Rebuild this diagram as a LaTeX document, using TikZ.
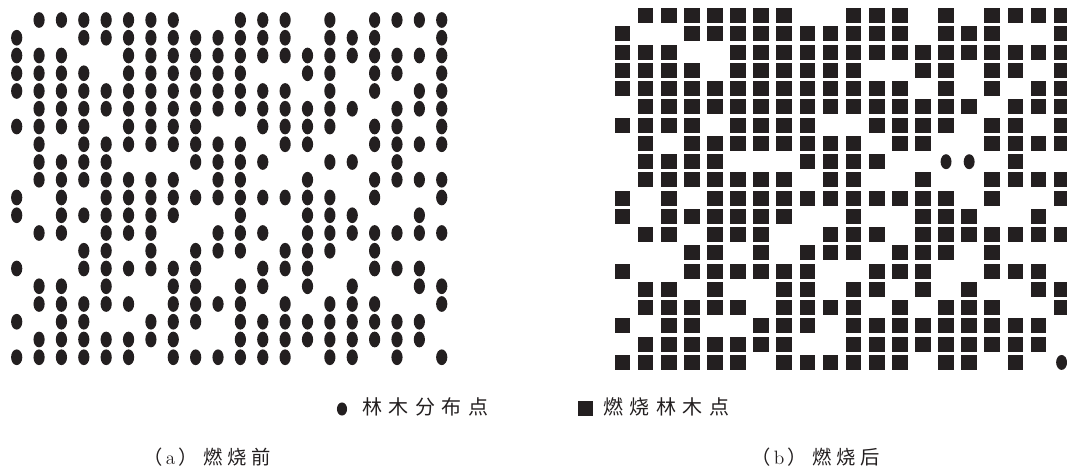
\documentclass[tikz,border=0pt]{standalone}
\usepackage{fontspec}
\newfontfamily\cjk{Noto Sans CJK SC}
\definecolor{ink}{HTML}{231F20}
\begin{document}
\begin{tikzpicture}[x=0.75pt,y=-0.75pt,
  treedot/.style={fill=ink},
  burnsq/.style={fill=ink},
  legtext/.style={anchor=west,inner sep=0pt,text=ink,font=\cjk\fontsize{15pt}{16pt}\selectfont},
  captext/.style={anchor=west,inner sep=0pt,text=ink,font=\fontsize{14.5pt}{15pt}\selectfont}]
\useasboundingbox (0,0) rectangle (1067,470);
\def\patt{1/{2,3,4,5,6,7,8,11,12,13,15,17,18,19,20},
2/{1,4,5,6,7,8,9,10,11,12,13,15,16,17,20},
3/{1,2,3,6,7,8,9,10,11,12,13,14,15,16,17,18,19,20},
4/{1,2,3,4,6,7,8,9,10,11,14,15,17,18,20},
5/{1,2,3,4,5,6,7,8,9,10,11,12,13,15,17,19,20},
6/{2,3,4,5,6,7,8,9,10,11,12,13,14,15,16,18,19,20},
7/{1,2,3,4,6,7,8,9,12,13,14,15,17,18,20},
8/{2,4,5,6,7,8,9,10,11,13,14,17,18,19,20},
9/{2,3,4,5,9,10,11,12,15,16,18},
10/{2,3,4,5,6,7,8,10,11,14,17,18,19,20},
11/{1,3,5,6,7,8,9,10,11,12,13,14,15,17,20},
12/{1,3,4,5,6,7,8,11,14,15,16,19},
13/{2,3,5,6,7,10,11,12,14,15,16,17,18,19,20},
14/{4,5,7,9,10,11,13,14,15,17},
15/{1,4,5,6,7,8,9,12,13,14,17,18,19},
16/{2,3,5,8,9,11,12,14,16,19,20},
17/{2,3,4,5,6,8,9,10,11,13,15,16,17,20},
18/{1,3,4,7,8,9,11,12,13,14,15,16,17,18,19},
19/{2,3,4,5,6,7,8,11,12,13,14,15,16,17,18,19},
20/{1,2,3,4,5,6,8,9,10,11,12,13,15,16,18,20}}
\foreach \r/\cl in \patt {
  \foreach \c in \cl {
    % (a) before burning
    \pgfmathsetmacro\X{16.7+(\c-1)*22.37}
    \pgfmathsetmacro\Y{20+(\r-1)*17.75}
    \fill[treedot] (\X,\Y) ellipse [x radius=4.2pt, y radius=5.9pt];
    % (b) after burning
    \pgfmathsetmacro\U{622.5+(\c-1)*23.11}
    \pgfmathsetmacro\V{15.7+(\r-1)*18.25}
    \pgfmathtruncatemacro\k{\r*100+\c}
    \def\rnd{0}
    \ifnum\k=915 \def\rnd{1}\fi
    \ifnum\k=916 \def\rnd{1}\fi
    \ifnum\k=2020 \def\rnd{1}\fi
    \ifnum\rnd=1
      \fill[treedot] (\U,\V) ellipse [x radius=4.1pt, y radius=5.6pt];
    \else
      \fill[burnsq] (\U-7.8,\V-7.5) rectangle (\U+7.8,\V+7.5);
    \fi
  }
}
% legend
\fill[treedot] (342,409) ellipse [x radius=3.8pt, y radius=4.9pt];
\node[legtext] (leg1) at (362,407) {林\hspace{4.9pt}木\hspace{4.9pt}分\hspace{4.9pt}布\hspace{4.9pt}点};
\fill[burnsq] (578,401) rectangle (593,416);
\node[legtext] (leg2) at (603,407) {燃\hspace{4.9pt}烧\hspace{4.9pt}林\hspace{4.9pt}木\hspace{4.9pt}点};
% captions
\node[captext] (capa) at (143,457) {{\cjk （}\hspace{2.5pt}a\hspace{2.5pt}{\cjk ）\hspace{4pt}燃\hspace{3.4pt}烧\hspace{3.4pt}前}};
\node[captext] (capb) at (751,457) {{\cjk （}\hspace{2.5pt}b\hspace{2.5pt}{\cjk ）\hspace{4pt}燃\hspace{3.4pt}烧\hspace{3.4pt}后}};
\end{tikzpicture}
\end{document}
